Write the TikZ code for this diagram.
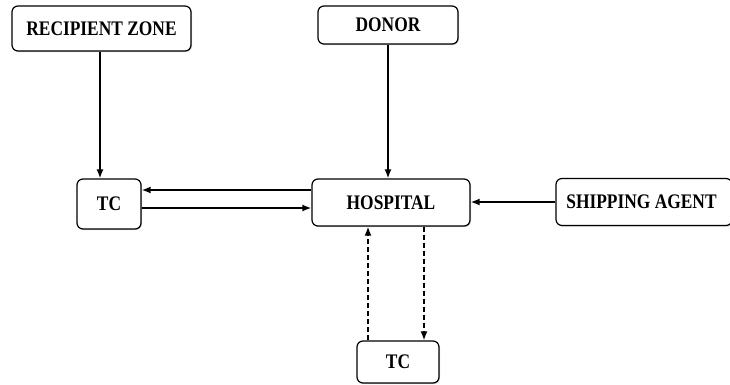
\documentclass[tikz,border=0pt]{standalone}
\usepackage{fontspec}
\usepackage{graphicx}
\setmainfont{Liberation Serif}
\usetikzlibrary{positioning,arrows.meta,calc,shadows}
\newcommand{\boxtext}[1]{\scalebox{0.84}[1]{#1}}

\begin{document}
\begin{tikzpicture}[x=1pt,y=1pt,
  unit/.style={draw,line width=1.2pt,rounded corners=6pt,fill=white,
    drop shadow={shadow xshift=1pt,shadow yshift=-1.2pt,opacity=0.35},
    font=\fontsize{20.7}{22}\selectfont\bfseries,inner sep=0pt},
  flow/.style={line width=1.6pt,-{Latex[length=9pt,width=7pt]}},
  dflow/.style={flow,dashed,dash pattern=on 5pt off 3pt}]
\useasboundingbox (0,0) rectangle (730,-385);

\node[unit,minimum width=179pt,minimum height=45pt] (rz) at (101.5,-28.5) {\boxtext{RECIPIENT ZONE}};
\node[unit,minimum width=140pt,minimum height=38pt] (donor) at (388,-25) {\boxtext{DONOR}};
\node[unit,minimum width=64pt,minimum height=50pt] (tcl) at (109,-204) {\boxtext{TC}};
\node[unit,minimum width=158pt,minimum height=47pt] (hosp) at (391,-202.5) {\boxtext{HOSPITAL}};
\node[unit,minimum width=176pt,minimum height=47pt] (ship) at (644,-202) {\hspace*{-5pt}\boxtext{SHIPPING AGENT}};
\node[unit,minimum width=82pt,minimum height=42pt] (tcb) at (398,-362) {\boxtext{TC}};

% inputs from the top
\draw[flow] ([xshift=-1.5pt]rz.south) -- ([xshift=-1.5pt]rz.south |- tcl.north);
\draw[flow] (donor.south) -- (donor.south |- hosp.north);

% hospital <-> TC
\draw[flow] ([yshift=12.5pt]hosp.west) -- ([yshift=12.5pt]hosp.west -| tcl.east);
\draw[flow] ([yshift=-4pt]tcl.east) -- ([yshift=-4pt]tcl.east -| hosp.west);
\draw[flow] (ship.west) -- (ship.west -| hosp.east);

% dashed links to lower TC
\draw[dflow] ([xshift=-30pt]tcb.north) -- ([xshift=-30pt]tcb.north |- hosp.south);
\draw[dflow] ([xshift=26pt]tcb.north |- hosp.south) -- ([xshift=26pt]tcb.north);
\end{tikzpicture}
\end{document}
